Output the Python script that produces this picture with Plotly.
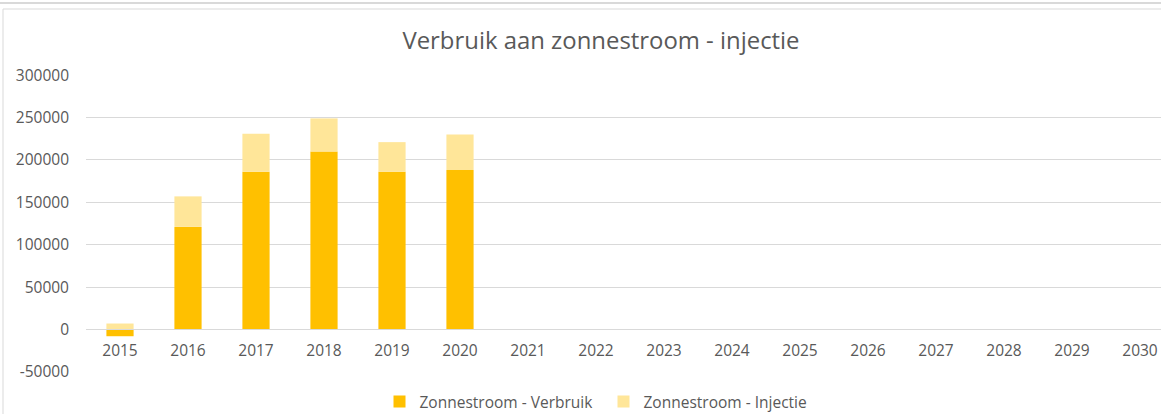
import plotly.graph_objects as go

years = [str(y) for y in range(2015, 2031)]
verbruik = [-8000, 121000, 186000, 210000, 186000, 188000]
injectie = [7000, 36000, 45000, 39000, 35000, 42000]
y_ticks = [-50000, 0, 50000, 100000, 150000, 200000, 250000, 300000]
y_labels = [str(v) for v in y_ticks]

font = "'Open Sans', sans-serif"
grey = "#595959"

# pad the series so every year gets a category slot
verbruik_full = verbruik + [None] * (len(years) - len(verbruik))
injectie_full = injectie + [None] * (len(years) - len(injectie))

fig = go.Figure()
fig.add_trace(go.Bar(x=years, y=verbruik_full, name="Zonnestroom - Verbruik",
                     marker=dict(color="#FFC000", line=dict(width=0))))
fig.add_trace(go.Bar(x=years, y=injectie_full, name="Zonnestroom - Injectie",
                     marker=dict(color="#FFE699", line=dict(width=0))))

W, H = 1161, 414
left, top, bottom = 86, 75, 42
plot_h = H - top - bottom
plot_w = W - left
slot = 68  # px per year in the original, plot runs past the right edge


def px_x(p):
    return (p - left) / plot_w


def px_y(p):
    return (H - bottom - p) / plot_h


fig.update_layout(
    width=W, height=H,
    barmode="relative",
    bargap=0.6,
    plot_bgcolor="white",
    paper_bgcolor="white",
    margin=dict(l=left, r=0, t=top, b=bottom, pad=0, autoexpand=False),
    font=dict(family=font, color=grey, size=15),
    title=dict(text="Verbruik aan zonnestroom - injectie", xref="container", x=601 / W,
               xanchor="center", y=1 - 41 / H, yanchor="middle",
               font=dict(size=23.9, color=grey)),
    legend=dict(orientation="h", xref="container", x=603.5 / W, xanchor="center",
                yref="container", y=1 - 402 / H, yanchor="middle",
                font=dict(size=15.5, color=grey), itemwidth=30, entrywidth=179,
                traceorder="normal"),
    xaxis=dict(type="category", categoryorder="array", categoryarray=years,
               range=[-0.5, plot_w / slot - 0.5],
               anchor="free", position=px_y(329), showgrid=False,
               showline=True, linecolor="#d9d9d9", linewidth=1, ticks="",
               tickfont=dict(size=15.5, color=grey), ticklabelstandoff=7),
    yaxis=dict(range=[-50200, 300200], tickvals=y_ticks, ticktext=y_labels, showgrid=True,
               gridcolor="#d9d9d9", gridwidth=1, zeroline=False,
               tickfont=dict(size=15.5, color=grey), ticklabelstandoff=16),
    shapes=[
        dict(type="rect", xref="paper", yref="paper", x0=px_x(3), x1=px_x(1200),
             y0=px_y(420), y1=px_y(9), line=dict(color="#d9d9d9", width=1),
             fillcolor="rgba(0,0,0,0)", layer="below"),
        dict(type="line", xref="paper", yref="paper", x0=px_x(0), x1=px_x(1200),
             y0=px_y(3), y1=px_y(3), line=dict(color="#d9d9d9", width=2)),
    ],
)

# drop the default body margin so the figure sits flush in the window
fig.write_html("out.html", config={"displayModeBar": False},
               post_script="document.body.style.margin='0';")
